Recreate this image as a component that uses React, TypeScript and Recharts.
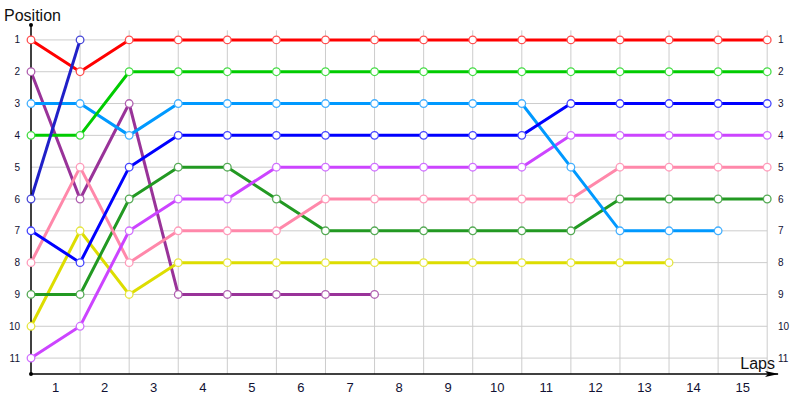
import React from "react";
import { LineChart, Line, XAxis, YAxis, ReferenceLine, Label } from "recharts";

// lap boundaries (0 = start) and the lap numbers written between them
const laps = [0, 1, 2, 3, 4, 5, 6, 7, 8, 9, 10, 11, 12, 13, 14, 15];
const lapLabels = [1, 2, 3, 4, 5, 6, 7, 8, 9, 10, 11, 12, 13, 14, 15];
const positions = [1, 2, 3, 4, 5, 6, 7, 8, 9, 10, 11];

// position of each car after each lap (shorter arrays = retired)
const red = [1, 2, 1, 1, 1, 1, 1, 1, 1, 1, 1, 1, 1, 1, 1, 1];
const green = [4, 4, 2, 2, 2, 2, 2, 2, 2, 2, 2, 2, 2, 2, 2, 2];
const navy = [6, 1];
const blue = [7, 8, 5, 4, 4, 4, 4, 4, 4, 4, 4, 3, 3, 3, 3, 3];
const skyBlue = [3, 3, 4, 3, 3, 3, 3, 3, 3, 3, 3, 5, 7, 7, 7];
const violet = [11, 10, 7, 6, 6, 5, 5, 5, 5, 5, 5, 4, 4, 4, 4, 4];
const pink = [8, 5, 8, 7, 7, 7, 6, 6, 6, 6, 6, 6, 5, 5, 5, 5];
const darkGreen = [9, 9, 6, 5, 5, 6, 7, 7, 7, 7, 7, 7, 6, 6, 6, 6];
const yellow = [10, 7, 9, 8, 8, 8, 8, 8, 8, 8, 8, 8, 8, 8];
const purple = [2, 6, 3, 9, 9, 9, 9, 9];

const series = [
  { key: "purple", values: purple, color: "#993399", dot: "#b060b0", axis: "left" },
  { key: "yellow", values: yellow, color: "#dddd00", dot: "#e6e640", axis: "left" },
  { key: "darkGreen", values: darkGreen, color: "#229922", dot: "#55aa55", axis: "left" },
  { key: "pink", values: pink, color: "#ff88aa", dot: "#ff9cbb", axis: "left" },
  { key: "violet", values: violet, color: "#cc44ff", dot: "#d070ff", axis: "left" },
  { key: "skyBlue", values: skyBlue, color: "#0099ff", dot: "#44b0ff", axis: "left" },
  { key: "blue", values: blue, color: "#0000ff", dot: "#4444ff", axis: "left" },
  { key: "green", values: green, color: "#00cc00", dot: "#44dd44", axis: "left" },
  // same domain on both axes, so the right one gets a series too to be drawn
  { key: "red", values: red, color: "#ff0000", dot: "#ff5050", axis: "right" },
  { key: "navy", values: navy, color: "#2020c8", dot: "#4848d8", axis: "left" },
];

const data = laps.map((lap, i) => {
  const row: any = { lap };
  series.forEach((s) => {
    row[s.key] = s.values[i];
  });
  return row;
});

const font = "'Liberation Sans', Arial, sans-serif";

const XLabel = (props: any) => {
  const { x, y, width } = props.viewBox;
  const end = x + width;
  return (
    <g>
      <polygon points={`${end - 13},${y - 3} ${end + 1},${y} ${end - 13},${y + 3} ${end - 10},${y}`} fill="#000" />
      <text x={end - 3} y={y - 5} textAnchor="end" fontSize={16} fontFamily={font} fill="#111">
        Laps
      </text>
    </g>
  );
};

const YLabel = (props: any) => {
  const { x, y, width, height } = props.viewBox;
  const ax = x + width;
  return (
    <g>
      <circle cx={ax} cy={y + 1} r={2} fill="#000" />
      <circle cx={ax} cy={y + height} r={2} fill="#000" />
      <text x={4} y={21} fontSize={16} fontFamily={font} fill="#111">
        Position
      </text>
    </g>
  );
};

export default function App() {
  return (
    <div style={{ position: "absolute", left: 0, top: 0 }}>
      <LineChart width={800} height={400} data={data} margin={{ top: 24, right: 0, bottom: 0, left: 0 }}>
        {positions.map((p) => (
          <ReferenceLine
            key={`h${p}`}
            yAxisId="left"
            segment={[{ x: 0, y: p }, { x: 15, y: p }]}
            stroke="#cccccc"
            strokeWidth={1}
          />
        ))}
        {laps.slice(1).map((l) => (
          <ReferenceLine
            key={`v${l}`}
            yAxisId="left"
            segment={[{ x: l, y: 0.7 }, { x: l, y: 11.5 }]}
            stroke="#cccccc"
            strokeWidth={1}
          />
        ))}
        <XAxis
          type="number"
          dataKey="lap"
          domain={[0, 15.22]}
          ticks={lapLabels.map((l) => l - 0.5)}
          tickFormatter={(v: number) => String(v + 0.5)}
          height={26}
          tickLine={false}
          tickSize={0}
          tickMargin={9}
          axisLine={{ stroke: "#000", strokeWidth: 1.5 }}
          tick={{ fontSize: 13, fontFamily: font, fill: "#111133" }}
          interval={0}
        >
          <Label content={<XLabel />} />
        </XAxis>
        <YAxis
          yAxisId="left"
          type="number"
          reversed
          domain={[0.5, 11.5]}
          ticks={positions}
          width={31}
          tickLine={false}
          tickSize={0}
          tickMargin={11}
          axisLine={{ stroke: "#000", strokeWidth: 1.5 }}
          tick={{ fontSize: 10, fontFamily: font, fill: "#111133" }}
          interval={0}
        >
          <Label content={<YLabel />} />
        </YAxis>
        <YAxis
          yAxisId="right"
          orientation="right"
          type="number"
          reversed
          domain={[0.5, 11.5]}
          ticks={positions}
          width={22}
          tickLine={false}
          tickSize={0}
          tickMargin={0}
          axisLine={false}
          tick={{ fontSize: 10, fontFamily: font, fill: "#111133", textAnchor: "start" }}
          interval={0}
        />
        {series.map((s) => (
          <Line
            key={s.key}
            yAxisId={s.axis}
            type="linear"
            dataKey={s.key}
            stroke={s.color}
            strokeWidth={3}
            dot={{ r: 3.8, fill: "#fff", stroke: s.dot, strokeWidth: 1.3 }}
            activeDot={false}
            isAnimationActive={false}
          />
        ))}
      </LineChart>
    </div>
  );
}
